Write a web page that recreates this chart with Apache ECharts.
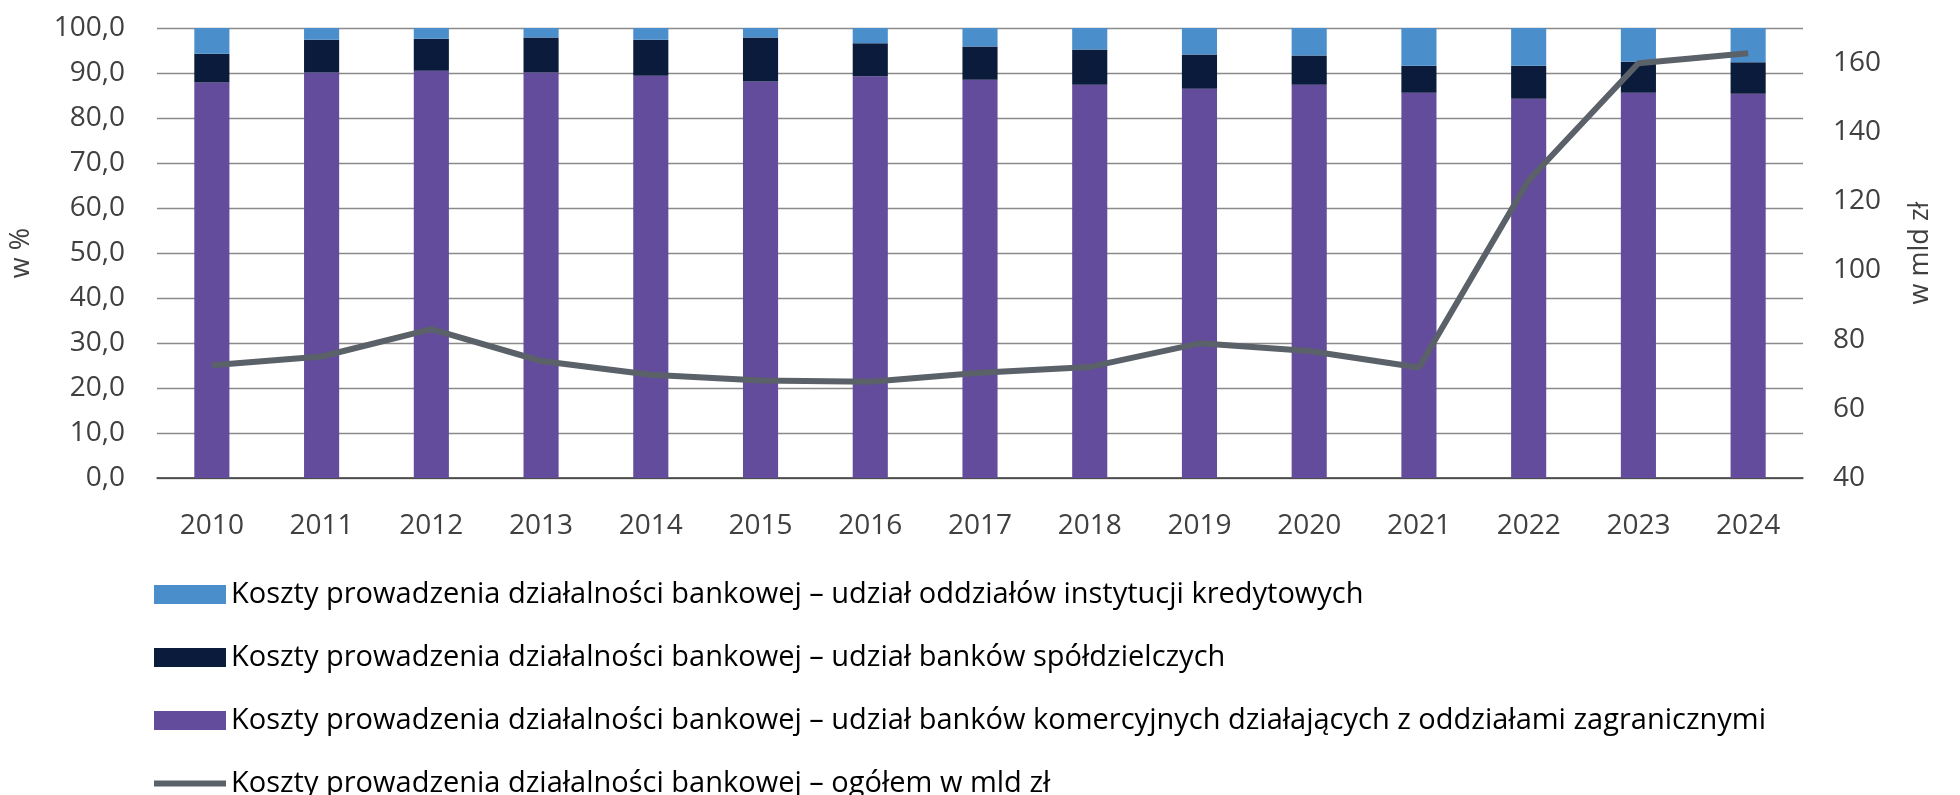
<!DOCTYPE html>
<html>
<head>
<meta charset="utf-8">
<script src="https://cdn.jsdelivr.net/npm/echarts@6/dist/echarts.min.js"></script>
<style>
  html, body { margin: 0; padding: 0; background: #fff; }
  #chart { width: 1960px; height: 795px; }
</style>
</head>
<body>
<div id="chart"></div>
<script>
let years = ['2010', '2011', '2012', '2013', '2014', '2015', '2016', '2017', '2018', '2019', '2020', '2021', '2022', '2023', '2024'];

// udziały w %, od dołu słupka
let commercialShare = [87.9, 90.1, 90.5, 90.1, 89.4, 88.1, 89.3, 88.5, 87.4, 86.5, 87.4, 85.6, 84.3, 85.6, 85.4];
let cooperativeShare = [6.4, 7.3, 7.1, 7.8, 8.0, 9.8, 7.3, 7.4, 7.8, 7.6, 6.5, 6.0, 7.3, 6.9, 7.0];
let branchShare = [5.7, 2.6, 2.4, 2.1, 2.6, 2.1, 3.4, 4.1, 4.8, 5.9, 6.1, 8.4, 8.4, 7.5, 7.6];

// ogółem w mld zł
let totalCosts = [72.6, 75.1, 83.0, 73.8, 69.8, 68.2, 67.8, 70.4, 72.1, 78.9, 76.7, 71.9, 126.0, 159.8, 162.7];

let prefix = 'Koszty prowadzenia działalności bankowej – ';
let names = {
  branch: prefix + 'udział oddziałów instytucji kredytowych',
  coop: prefix + 'udział banków spółdzielczych',
  comm: prefix + 'udział banków komercyjnych działających z oddziałami zagranicznymi',
  total: prefix + 'ogółem w mld zł'
};

let font = "'Open Sans', sans-serif";
let textColor = '#404040';
let lineColor = '#5b6168';

let chart = echarts.init(document.querySelector('#chart'));

let option = {
  animation: false,
  textStyle: { fontFamily: font },
  grid: { left: 157, right: 157, top: 28, bottom: 317 },
  legend: {
    orient: 'vertical',
    left: 151,
    top: 580,
    height: 260,
    padding: 0,
    itemWidth: 72,
    itemHeight: 19,
    itemGap: 34,
    textStyle: { fontFamily: font, fontSize: 29, color: '#000', lineHeight: 24 },
    data: [
      { name: names.branch, icon: 'rect' },
      { name: names.coop, icon: 'rect' },
      { name: names.comm, icon: 'rect' },
      {
        name: names.total,
        itemStyle: { opacity: 0 },
        lineStyle: { width: 6, color: lineColor }
      }
    ]
  },
  xAxis: {
    type: 'category',
    data: years,
    axisTick: { show: false },
    axisLine: { lineStyle: { color: '#3a3a3a', width: 1.5 } },
    axisLabel: { fontSize: 28, color: textColor, margin: 34 }
  },
  yAxis: [
    {
      type: 'value',
      min: 0,
      max: 100,
      interval: 10,
      name: 'w %',
      nameLocation: 'middle',
      nameRotate: 90,
      nameGap: 122,
      nameTextStyle: { fontSize: 27, color: textColor },
      axisLabel: {
        fontSize: 28,
        color: textColor,
        margin: 32,
        formatter: v => v.toFixed(1).replace('.', ',')
      },
      splitLine: { lineStyle: { color: '#8a8a8a', width: 1.3 } }
    },
    {
      type: 'value',
      min: 40,
      max: 170,
      interval: 20,
      name: 'w mld zł',
      nameLocation: 'middle',
      nameRotate: 90,
      nameGap: 104,
      nameTextStyle: { fontSize: 27, color: textColor },
      axisLabel: { fontSize: 28, color: textColor, margin: 30, showMaxLabel: false },
      splitLine: { show: false }
    }
  ],
  series: [
    {
      name: names.comm,
      type: 'bar',
      stack: 'share',
      barWidth: '32%',
      itemStyle: { color: '#634c9c' },
      data: commercialShare
    },
    {
      name: names.coop,
      type: 'bar',
      stack: 'share',
      itemStyle: { color: '#0b1b3c' },
      data: cooperativeShare
    },
    {
      name: names.branch,
      type: 'bar',
      stack: 'share',
      itemStyle: { color: '#4a8fcc' },
      data: branchShare
    },
    {
      name: names.total,
      type: 'line',
      yAxisIndex: 1,
      symbol: 'none',
      lineStyle: { color: lineColor, width: 6 },
      itemStyle: { color: lineColor },
      data: totalCosts
    }
  ]
};

chart.setOption(option);
</script>
</body>
</html>
